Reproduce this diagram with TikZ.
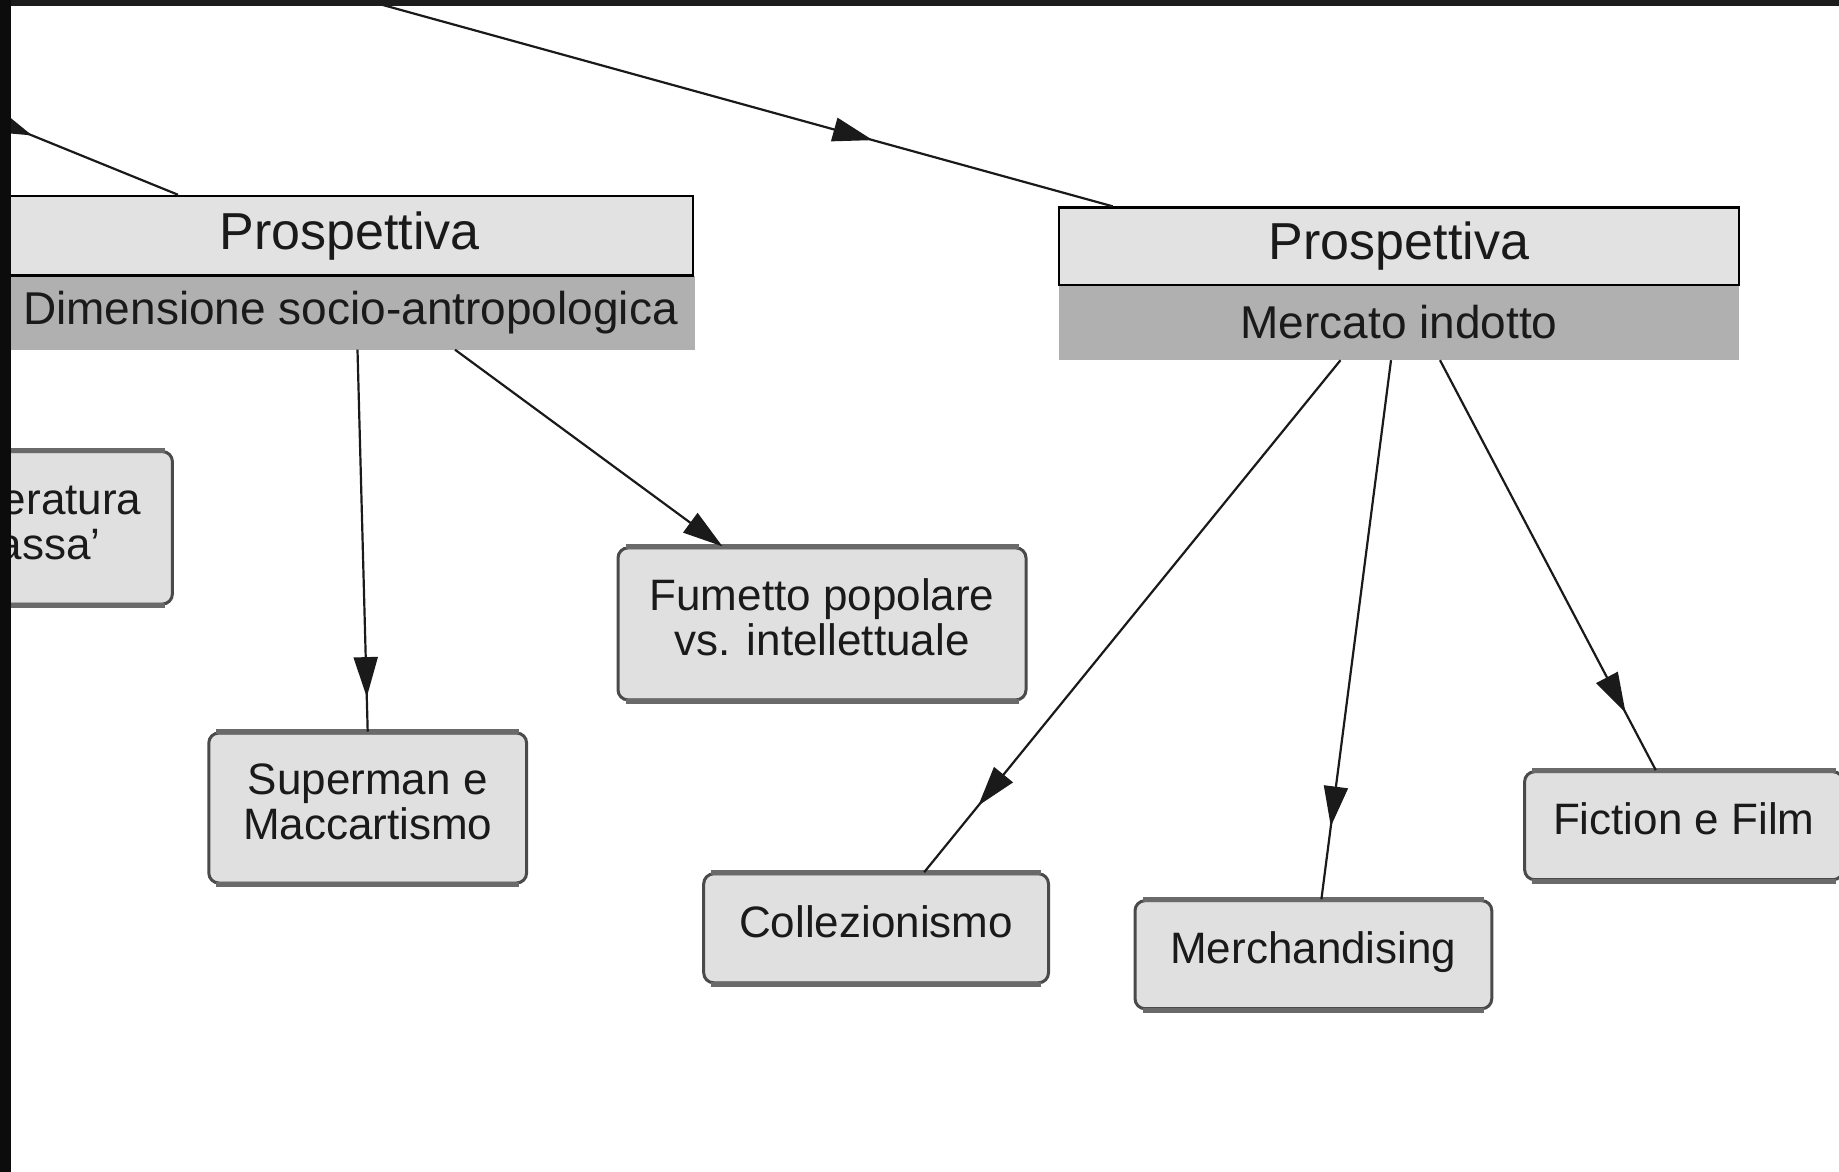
\documentclass[tikz,border=0pt]{standalone}
\usepackage{fontspec}
\setmainfont{Liberation Sans}
\usetikzlibrary{arrows.meta,decorations.markings,calc}

\definecolor{hdrfill}{HTML}{E2E2E2}
\definecolor{subfill}{HTML}{B0B0B0}
\definecolor{boxfill}{HTML}{E0E0E0}
\definecolor{boxline}{HTML}{4A4A4A}
\definecolor{barline}{HTML}{6A6A6A}
\definecolor{ink}{HTML}{1A1A1A}
\definecolor{frameA}{HTML}{1C1C1C}
\definecolor{frameB}{HTML}{0C0C0C}

\newcommand\conceptlines[1]{\begin{tabular}{@{}c@{}}#1\end{tabular}}

\tikzset{
  hdr/.style={draw=black, line width=2.5pt, fill=hdrfill, inner sep=0pt, text=ink,
    font=\fontsize{52}{56}\selectfont},
  subbar/.style={fill=subfill, inner sep=0pt, text=ink, font=\fontsize{46}{50}\selectfont},
  concept/.style={draw=boxline, line width=3pt, fill=boxfill, rounded corners=10pt,
    inner sep=0pt, text=ink, font=\fontsize{44}{44.6}\selectfont},
  edgebar/.style={draw=barline, line width=5pt},
  link/.style={draw=ink, line width=2.2pt},
  endtip/.style={-{Triangle[length=40pt,width=24pt]}},
  tipat/.style={postaction={decorate}, decoration={markings,
    mark=at position #1 with {\arrow{Triangle[length=40pt,width=24pt]}}}},
}

\begin{document}
\begin{tikzpicture}[x=1pt,y=-1pt]
\useasboundingbox (0,0) rectangle (1839,1172);
\clip (0,0) rectangle (1839,1172);
\fill[white] (0,0) rectangle (1839,1172);

% perspective boxes
\node[subbar, minimum width=689pt, minimum height=74pt] (lsub) at (350.5,312.5) {Dimensione socio-antropologica};
\node[hdr, minimum width=687pt, minimum height=79.6pt] (lhead) at (349.5,235.8) {Prospettiva};
\node[subbar, minimum width=680pt, minimum height=75pt] (rsub) at (1399,322.5) {Mercato indotto};
\node[hdr, minimum width=680pt, minimum height=77.4pt] (rhead) at (1399,246.3) {Prospettiva};

% concept boxes
\node[concept, minimum width=360pt, minimum height=152.5pt] (para) at (-7.6,527.8) {\conceptlines{\hspace{7pt}Paraletteratura\\\hspace{21pt}‘di massa’}};
\node[concept, minimum width=317.8pt, minimum height=150pt] (sup) at (367.7,808) {\conceptlines{Superman e\\Maccartismo}};
\node[concept, minimum width=408pt, minimum height=152pt] (fum) at (822,623.9) {\conceptlines{Fumetto popolare\\vs. intellettuale}};
\node[concept, minimum width=344.8pt, minimum height=109pt] (coll) at (876.1,928.3) {\conceptlines{Collezionismo}};
\node[concept, minimum width=356.8pt, minimum height=108pt] (merch) at (1313.4,954.7) {\conceptlines{Merchandising}};
\node[concept, minimum width=318.4pt, minimum height=108pt] (fict) at (1683.8,825.7) {\conceptlines{Fiction e Film}};

% heavier top and bottom edges of the concept boxes
\foreach \n in {para,sup,fum,coll,merch,fict}{
  \draw[edgebar] ($(\n.north west)+(9,0)$) -- ($(\n.north east)+(-9,0)$);
  \draw[edgebar] ($(\n.south west)+(9,0)$) -- ($(\n.south east)+(-9,0)$);
}

% free ends of links coming from outside the view
\coordinate (topsrc) at (256,-30);
\coordinate (leftsrc) at (-60,98);

% links
\draw[link, tipat=0.72] (topsrc) -- ($(rhead.north west)+(55,0)$);
\draw[link, tipat=0.387] (leftsrc) -- ($(lhead.north)+(-171.5,0)$);
\draw[link, tipat=0.91] ($(lsub.south)+(7,0)$) -- (sup.north);
\draw[link, endtip] ($(lsub.south)+(104.5,0)$) -- ($(fum.north)+(-99.5,0)$);
\draw[link, tipat=0.87] ($(rsub.south)+(-58.5,0)$) -- ($(coll.north)+(48,0)$);
\draw[link, tipat=0.865] ($(rsub.south)+(-8,0)$) -- ($(merch.north)+(8,0)$);
\draw[link, tipat=0.86] ($(rsub.south)+(41,0)$) -- ($(fict.north)+(-28,0)$);

% dark frame of the screenshot
\fill[frameA] (0,0) rectangle (1839,6);
\fill[frameB] (0,0) rectangle (11,1172);
\end{tikzpicture}
\end{document}
